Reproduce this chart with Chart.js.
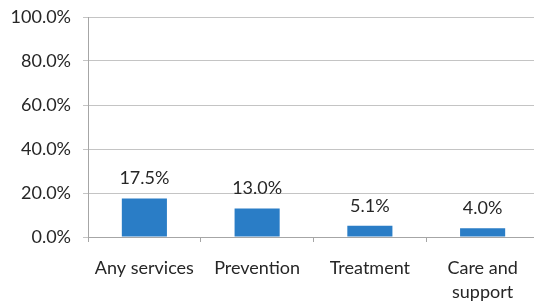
<!DOCTYPE html>
<html>
<head>
<meta charset="utf-8">
<script src="https://cdn.jsdelivr.net/npm/chart.js@4/dist/chart.umd.min.js"></script>
<style>
    html, body { margin:0; padding:0; background:#ffffff; overflow:hidden; }
    #wrap { position:relative; width:540px; height:304px; }
</style>
</head>
<body>
<div id="wrap"><canvas id="servicesChart"></canvas></div>
<script>

//======================================================
// DATA
//======================================================

const categories = [
    "Any services",
    "Prevention",
    "Treatment",
    ["Care and", "support"]
];

const shares = [17.5, 13.0, 5.1, 4.0];

const yTicks = [0, 20, 40, 60, 80, 100];

//======================================================
// VALUE LABELS ABOVE BARS
//======================================================

const valueLabels = {

    id:"valueLabels",

    afterDatasetsDraw(chart){

        const ctx = chart.ctx;
        const meta = chart.getDatasetMeta(0);

        ctx.save();
        ctx.font = "18px Lato";
        ctx.fillStyle = "#262626";
        ctx.textAlign = "center";
        ctx.textBaseline = "middle";

        meta.data.forEach(function(bar, i){
            ctx.fillText(shares[i].toFixed(1) + "%", bar.x, bar.y - 20);
        });

        ctx.restore();

    }

};

//======================================================
// CHART
//======================================================

const ctx = document.getElementById("servicesChart").getContext("2d");

new Chart(ctx,{

    type:"bar",

    data:{

        labels:categories,

        datasets:[{
            data:shares,
            backgroundColor:"#2a7dc6",
            borderWidth:0,
            barPercentage:0.8,
            categoryPercentage:0.5
        }]

    },

    options:{

        responsive:true,
        maintainAspectRatio:false,
        animation:false,

        layout:{
            padding:{ top:17, right:1, left:0, bottom:0 }
        },

        plugins:{
            legend:{ display:false },
            tooltip:{ enabled:false }
        },

        scales:{

            x:{
                afterFit(scale){
                    scale.height = 67;
                    scale.paddingLeft = 0;
                    scale.paddingRight = 0;
                },
                grid:{
                    display:true,
                    drawOnChartArea:false,
                    drawTicks:true,
                    tickLength:5,
                    color:"#a6a6a6"
                },
                border:{ color:"#a6a6a6" },
                ticks:{
                    color:"#262626",
                    font:{ family:"Lato", size:18, lineHeight:1.35 },
                    padding:14,
                    maxRotation:0,
                    autoSkip:false
                }
            },

            y:{
                min:0,
                max:100,
                afterFit(scale){
                    scale.width = 88;
                    scale.paddingTop = 0;
                    scale.paddingBottom = 0;
                },
                afterBuildTicks(scale){
                    scale.ticks = yTicks.map(function(v){ return { value:v }; });
                },
                grid:{
                    color:"#c4c4c4",
                    tickLength:5
                },
                border:{ color:"#a6a6a6" },
                ticks:{
                    color:"#262626",
                    font:{ family:"Lato", size:18 },
                    padding:12,
                    callback:function(v){ return v.toFixed(1) + "%"; }
                }
            }

        }

    },

    plugins:[valueLabels]

});

</script>
</body>
</html>
